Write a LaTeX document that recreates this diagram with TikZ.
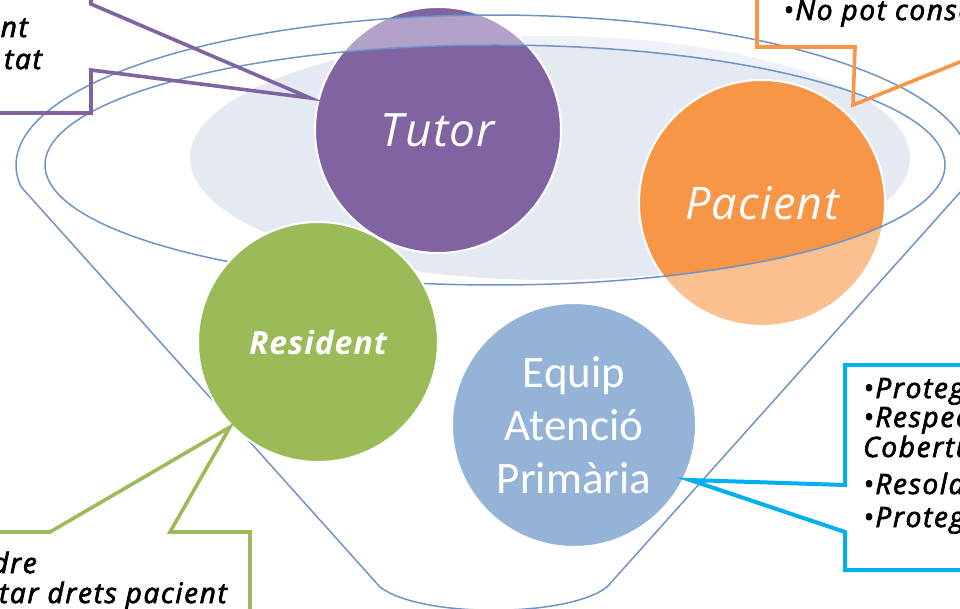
\documentclass[tikz,border=0pt]{standalone}
\usepackage{fontspec}
\setmainfont{Open Sans}
\newfontfamily\handfont{Open Sans}[FakeBold=2.5, LetterSpace=6]
\newfontfamily\circlefont{Open Sans}[LetterSpace=3]
\newfontfamily\carlitofont{Carlito}
\definecolor{tutorc}{HTML}{8064A2}
\definecolor{pacientc}{HTML}{F79646}
\definecolor{residentc}{HTML}{9BBB59}
\definecolor{equipc}{HTML}{95B3D7}
\definecolor{funnelblue}{HTML}{6E93C8}
\definecolor{rimfill}{HTML}{E4E9F2}
\definecolor{calloutcyan}{HTML}{00B0F0}
\begin{document}
\begin{tikzpicture}[x=1pt,y=1pt,
  funnelline/.style={draw=funnelblue, line width=1.5pt},
  bubble/.style={circle, draw=white, line width=2pt, inner sep=0pt, minimum size=#1, text=white},
  calloutline/.style={line width=3.6pt, line join=miter},
  callouttext/.style={font=\handfont\itshape\fontsize{28}{32}\selectfont, inner sep=0pt, text=black}]
\useasboundingbox (0,0) rectangle (960,-609);
\clip (0,0) rectangle (960,-609);
% light background ellipse
\fill[rimfill] (550,-158) ellipse [x radius=360, y radius=122];
% top circles
\node[bubble=246, fill=tutorc, font=\circlefont\itshape\fontsize{46}{50}\selectfont] (tutor) at (438,-130) {Tutor};
\node[bubble=246, fill=pacientc, font=\circlefont\itshape\fontsize{45}{50}\selectfont] (pacient) at (762,-203) {Pacient};
% translucent funnel body
\fill[white, opacity=0.4, even odd rule]
  (493,-165) ++(-8.43:477 and 150) arc[start angle=-8.43, end angle=188.43, x radius=477, y radius=150]
  -- (380,-587) .. controls (420,-618) and (567,-618) .. (607,-587) -- cycle
  (495,-165) ellipse [x radius=450, y radius=120];
% funnel lines
\draw[funnelline]
  (493,-165) ++(-8.43:477 and 150) arc[start angle=-8.43, end angle=188.43, x radius=477, y radius=150]
  -- (380,-587) .. controls (420,-618) and (567,-618) .. (607,-587) -- cycle;
\draw[funnelline] (495,-165) ellipse [x radius=450, y radius=120];
% lower circles
\node[bubble=240, fill=residentc, font=\circlefont\bfseries\itshape\fontsize{32}{36}\selectfont] (resident) at (318,-342) {Resident};
\node[bubble=244, fill=equipc, align=center, font=\carlitofont\fontsize{45}{53}\selectfont] (equip) at (574,-425) {Equip\\Atenció\\Primària};
% purple callout
\coordinate (tutortip) at (310,-98);
\draw[calloutline, tutorc] (-5,-113) -- (91,-113) -- (91,-70) -- (tutortip) -- (91,-4) -- (91,10);
\node[callouttext, anchor=base east] (purpleA) at (28,-37) {nt};
\node[callouttext, anchor=base east] (purpleB) at (42,-69) {tat};
% orange callout
\coordinate (pacienttip) at (853,-105);
\draw[calloutline, pacientc] (757,10) -- (757,-47) -- (855,-47) -- (pacienttip) -- (970,-58);
\node[callouttext, anchor=base west] (orangeA) at (783,-20) {•No pot conse};
% green callout
\coordinate (residenttip) at (230,-427);
\draw[calloutline, residentc] (-5,-532) -- (50,-532) -- (residenttip) -- (170,-532) -- (250,-532) -- (250,-615);
\node[callouttext, anchor=base east] (greenA) at (37,-573) {dre};
\node[callouttext, anchor=base east] (greenB) at (227,-603) {tar drets pacient};
% cyan callout
\coordinate (equiptip) at (690,-480);
\draw[calloutline, line width=4pt, calloutcyan] (970,-365) -- (845,-365) -- (845,-485) -- (equiptip) -- (845,-532) -- (845,-570) -- (970,-570);
\node[callouttext, anchor=base west] (cyanA) at (863,-398) {•Proteg};
\node[callouttext, anchor=base west] (cyanB) at (863,-427) {•Respec};
\node[callouttext, anchor=base west] (cyanC) at (863,-457) {Cobertu};
\node[callouttext, anchor=base west] (cyanD) at (863,-494) {•Resold};
\node[callouttext, anchor=base west] (cyanE) at (863,-527) {•Proteg};
\end{tikzpicture}
\end{document}
